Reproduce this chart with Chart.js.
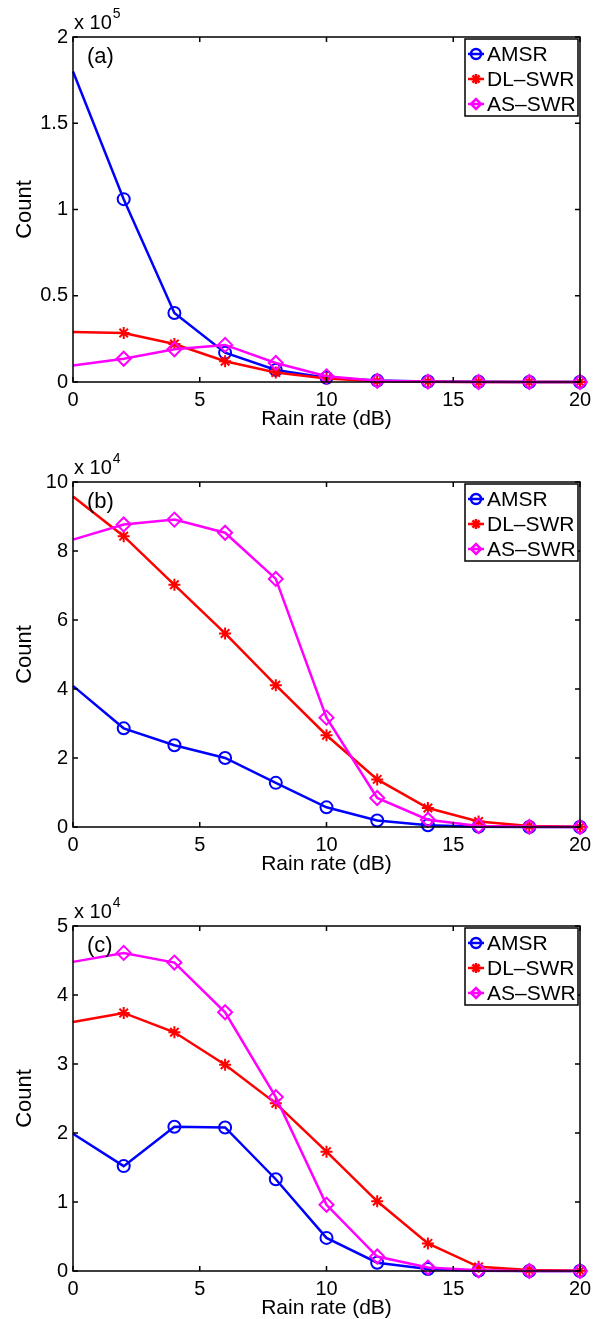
<!DOCTYPE html>
<html>
<head>
<meta charset="utf-8">
<script src="https://cdn.jsdelivr.net/npm/chart.js@4.4.1/dist/chart.umd.min.js"></script>
<style>
  body { margin: 0; background: #fff; width: 602px; height: 1319px; overflow: hidden; position: relative; }
  .panel { position: absolute; left: 0; }
</style>
</head>
<body>
<div class="panel" style="top:0px"><canvas id="chartA" width="602" height="430"></canvas></div>
<div class="panel" style="top:445px"><canvas id="chartB" width="602" height="430"></canvas></div>
<div class="panel" style="top:889px"><canvas id="chartC" width="602" height="430"></canvas></div>
<script>
// rain rate bins (dB)
const rainRate = [0, 2, 4, 6, 8, 10, 12, 14, 16, 18, 20];
const seriesNames = ["AMSR", "DL–SWR", "AS–SWR"];

// (a) counts in units of 1e5
const amsrA = [1.80, 1.06, 0.40, 0.17, 0.07, 0.025, 0.008, 0.003, 0.001, 0, 0];
const dlA   = [0.29, 0.284, 0.22, 0.12, 0.055, 0.02, 0.005, 0.002, 0, 0, 0];
const asA   = [0.095, 0.135, 0.19, 0.215, 0.11, 0.033, 0.007, 0.002, 0, 0, 0];

// (b) counts in units of 1e4
const amsrB = [4.09, 2.86, 2.37, 2.00, 1.28, 0.57, 0.19, 0.05, 0.01, 0, 0];
const dlB   = [9.58, 8.43, 7.02, 5.61, 4.11, 2.66, 1.38, 0.55, 0.16, 0.03, 0.005];
const asB   = [8.33, 8.77, 8.91, 8.53, 7.19, 3.17, 0.84, 0.21, 0.03, 0.005, 0];

// (c) counts in units of 1e4
const amsrC = [1.99, 1.52, 2.09, 2.08, 1.33, 0.48, 0.12, 0.03, 0.005, 0, 0];
const dlC   = [3.61, 3.74, 3.46, 2.99, 2.43, 1.73, 1.01, 0.40, 0.06, 0.015, 0.005];
const asC   = [4.48, 4.61, 4.47, 3.75, 2.52, 0.96, 0.21, 0.05, 0.01, 0, 0];

const colors = ["#0000ff", "#ff0000", "#ff00ff"];
const markers = ["circle", "star", "rectRot"];
const FONT = "'Liberation Sans', Arial, Helvetica, sans-serif";

Chart.defaults.font.family = FONT;
Chart.defaults.color = "#000";

function toPoints(vals) {
  return vals.map((v, i) => ({ x: rainRate[i], y: v }));
}

// box, inward ticks, panel tag, exponent and legend (matlab look)
const matlabFrame = {
  id: "matlabFrame",
  afterDraw(chart) {
    const ctx = chart.ctx;
    const a = chart.chartArea;
    const xs = chart.scales.x, ys = chart.scales.y;
    const o = chart.options.plugins.matlabFrame;
    ctx.save();
    ctx.strokeStyle = "#000";
    ctx.lineWidth = 1.5;
    ctx.strokeRect(a.left, a.top, a.right - a.left, a.bottom - a.top);
    ctx.beginPath();
    xs.ticks.forEach((t) => {
      const px = xs.getPixelForValue(t.value);
      ctx.moveTo(px, a.bottom); ctx.lineTo(px, a.bottom - 5);
      ctx.moveTo(px, a.top); ctx.lineTo(px, a.top + 5);
    });
    ys.ticks.forEach((t) => {
      const py = ys.getPixelForValue(t.value);
      ctx.moveTo(a.left, py); ctx.lineTo(a.left + 5, py);
      ctx.moveTo(a.right, py); ctx.lineTo(a.right - 5, py);
    });
    ctx.stroke();

    // exponent
    ctx.fillStyle = "#000";
    ctx.textAlign = "left";
    ctx.textBaseline = "alphabetic";
    ctx.font = "20px " + FONT;
    ctx.fillText("x 10", a.left + 1, a.top - 8);
    const w = ctx.measureText("x 10").width;
    ctx.font = "14px " + FONT;
    ctx.fillText(o.exponent, a.left + 2 + w, a.top - 19);

    // panel tag
    ctx.font = "22px " + FONT;
    ctx.textBaseline = "middle";
    ctx.fillText(o.tag, a.left + 14, a.top + 20);

    // legend
    const lw = 113, lh = 77;
    const lx = a.right - lw - 2, ly = a.top + 2;
    ctx.fillStyle = "#fff";
    ctx.fillRect(lx, ly, lw, lh);
    ctx.lineWidth = 1.5;
    ctx.strokeStyle = "#000";
    ctx.strokeRect(lx, ly, lw, lh);
    chart.data.datasets.forEach((ds, i) => {
      const cy = ly + 15 + i * 25;
      ctx.strokeStyle = ds.borderColor;
      ctx.lineWidth = 2.5;
      ctx.beginPath();
      ctx.moveTo(lx + 3, cy); ctx.lineTo(lx + 19, cy);
      ctx.stroke();
      ctx.fillStyle = "rgba(0,0,0,0)";
      Chart.helpers.drawPoint(ctx, { pointStyle: ds.pointStyle, radius: 5, rotation: 0, borderWidth: 2 }, lx + 11, cy);
      ctx.fillStyle = "#000";
      ctx.font = "21px " + FONT;
      ctx.textAlign = "left";
      ctx.textBaseline = "middle";
      ctx.fillText(ds.label, lx + 22, cy + 1);
    });
    ctx.restore();
  }
};

function makeChart(id, series, yMax, yStep, tag, exponent) {
  const datasets = series.map((vals, i) => ({
    label: seriesNames[i],
    data: toPoints(vals),
    borderColor: colors[i],
    backgroundColor: "rgba(0,0,0,0)",
    borderWidth: 2.5,
    pointStyle: markers[i],
    pointRadius: (c) => (c.dataIndex === 0 ? 0 : (i === 2 ? 7 : 6)),
    pointBorderWidth: 2,
    pointBorderColor: colors[i],
    pointBackgroundColor: "rgba(0,0,0,0)",
    order: 2 - i,
    clip: 10,
    tension: 0
  }));
  return new Chart(document.getElementById(id), {
    type: "line",
    data: { datasets },
    options: {
      responsive: false,
      animation: false,
      devicePixelRatio: 1,
      layout: { padding: { left: 0, top: 37, right: 22, bottom: 0 } },
      plugins: {
        legend: { display: false },
        tooltip: { enabled: false },
        matlabFrame: { tag, exponent }
      },
      scales: {
        x: {
          type: "linear",
          min: 0, max: 20,
          ticks: { stepSize: 5, autoSkip: false, maxRotation: 0, padding: 6, font: { size: 20 } },
          grid: { display: false, drawTicks: false },
          border: { display: false },
          title: { display: true, text: "Rain rate (dB)", font: { size: 21, lineHeight: 1 }, padding: { top: 0, bottom: 0 } },
          afterFit: (s) => { s.height = 48; }
        },
        y: {
          min: 0, max: yMax,
          ticks: { stepSize: yStep, padding: 5, font: { size: 20 }, callback: (v) => String(Math.round(v * 100) / 100) },
          grid: { display: false, drawTicks: false },
          border: { display: false },
          title: { display: true, text: "Count", font: { size: 22, lineHeight: 1 }, padding: { top: 14, bottom: 0 } },
          afterFit: (s) => { s.width = 73; }
        }
      }
    },
    plugins: [matlabFrame]
  });
}

makeChart("chartA", [amsrA, dlA, asA], 2, 0.5, "(a)", "5");
makeChart("chartB", [amsrB, dlB, asB], 10, 2, "(b)", "4");
makeChart("chartC", [amsrC, dlC, asC], 5, 1, "(c)", "4");
</script>
</body>
</html>
